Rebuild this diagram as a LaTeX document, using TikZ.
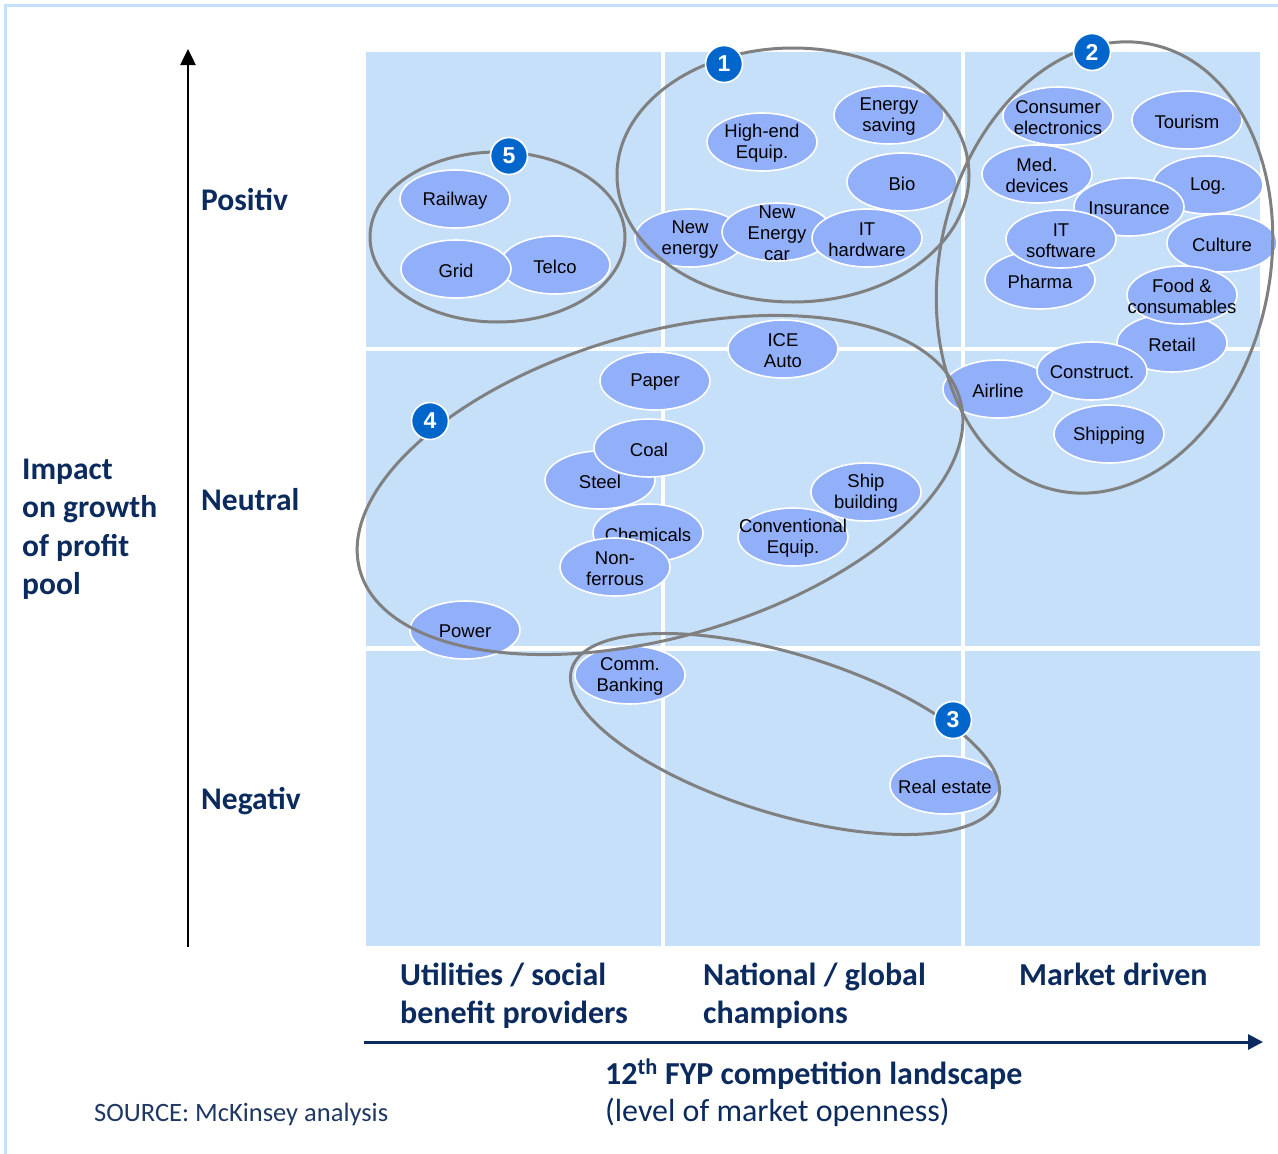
\documentclass[tikz,border=0pt]{standalone}
\usepackage{fontspec}
\setmainfont{Carlito}
\newfontfamily\bubfont{Liberation Sans}
\usetikzlibrary{shapes.geometric,arrows.meta}
\definecolor{cellblue}{HTML}{C6E0FA}
\definecolor{bubblue}{HTML}{92B0FA}
\definecolor{navy}{HTML}{0B2B5E}
\definecolor{srcnavy}{HTML}{1F3864}
\definecolor{ringgray}{HTML}{808080}
\definecolor{badgeblue}{HTML}{0066CC}
\newcommand{\bubnode}[3]{\node[bub, label={[bubtxt]center:{#3}}] (#1) at (#2) {};}
\begin{document}
\begin{tikzpicture}[x=1pt,y=-1pt,
  bub/.style={ellipse, fill=bubblue, draw=white, line width=1.6pt,
    minimum width=110pt, minimum height=58pt, inner sep=0pt},
  bubtxt/.style={inner sep=0pt, align=center, text=black, yshift=-1.5pt,
    font=\bubfont\fontsize{18.5}{21}\selectfont},
  ring/.style={draw=ringgray, line width=3pt},
  badge/.style={circle, fill=badgeblue, draw=white, line width=1.6pt,
    minimum size=37pt, inner sep=0pt, text=white,
    font=\bubfont\bfseries\fontsize{23}{23}\selectfont},
  lab/.style={anchor=base west, inner sep=0pt, text=navy,
    font=\bfseries\fontsize{31.5}{38}\selectfont},
  labc/.style={anchor=base west, inner sep=0pt, text=navy,
    font=\bfseries\fontsize{32}{38}\selectfont},
  reg/.style={anchor=base west, inner sep=0pt, text=navy,
    font=\fontsize{32}{38}\selectfont},
  yaxis/.style={draw=black, line width=2.5pt, -{Triangle[length=16pt,width=15pt]}},
  xaxis/.style={draw=navy, line width=3pt, -{Triangle[length=15pt,width=15pt]}}
]
\useasboundingbox (0,0) rectangle (1278,1154);
\fill[white] (0,0) rectangle (1278,1154);
\draw[cellblue, line width=3pt] (5,1170) -- (5,5) -- (1290,5);

% grid cells
\foreach \xa/\xb in {366/661,665/961,965/1260}
  \foreach \ya/\yb in {52/347,351/646,651/946}
    \fill[cellblue] (\xa,\ya) rectangle (\xb,\yb);

% axes
\coordinate (ybot) at (188,947);
\coordinate (ytop) at (188,49);
\draw[yaxis] (ybot) -- (ytop);
\coordinate (xleft) at (364,1042);
\coordinate (xright) at (1263,1042);
\draw[xaxis] (xleft) -- (xright);

% axis labels
\node[lab] (positiv) at (201,210) {Positiv};
\node[lab] (neutral) at (201,510) {Neutral};
\node[lab] (negativ) at (201,809) {Negativ};
\node[lab] (imp1) at (22,479) {Impact};
\node[lab] (imp2) at (22,517) {on growth};
\node[lab] (imp3) at (22,556) {of profit};
\node[lab] (imp4) at (22,594) {pool};
\node[labc] (c1a) at (400,985) {Utilities / social};
\node[labc] (c1b) at (400,1023) {benefit providers};
\node[labc] (c2a) at (703,985) {National / global};
\node[labc] (c2b) at (703,1023) {champions};
\node[labc] (c3a) at (1019,985) {Market driven};
\node[labc] (xtitle) at (605,1084) {12\textsuperscript{th} FYP competition landscape};
\node[reg] (xsub) at (605,1121) {(level of market openness)};
\node[anchor=base west, inner sep=0pt, text=srcnavy, font=\fontsize{26.5}{30}\selectfont] (source) at (94,1121) {SOURCE: McKinsey analysis};

% cluster 5 bubbles
\bubnode{telco}{555,265}{Telco}
\bubnode{railway}{455,199}{Railway}
\bubnode{grid}{456,269}{Grid}

% cluster 1 bubbles
\bubnode{highend}{762,142}{High-end\\Equip.}
\bubnode{energysaving}{889,115}{Energy\\saving}
\bubnode{bio}{902,182}{Bio}
\bubnode{newenergy}{690,238}{New\\energy}
\bubnode{nec}{777,232}{New\\Energy\\car}
\bubnode{ithw}{867,238}{IT\\hardware}

% cluster 2 bubbles
\bubnode{consumer}{1058,116}{Consumer\\electronics}
\bubnode{tourism}{1187,120}{Tourism}
\bubnode{med}{1037,174}{Med.\\devices}
\bubnode{log}{1208,185}{Log.}
\bubnode{insurance}{1129,207}{Insurance}
\bubnode{pharma}{1040,280}{Pharma}
\bubnode{itsw}{1061,239}{IT\\software}
\bubnode{culture}{1222,243}{Culture}
\bubnode{retail}{1172,343}{Retail}
\bubnode{food}{1182,295}{Food \&\\consumables}
\bubnode{airline}{998,389}{Airline}
\bubnode{construct}{1092,371}{Construct.}
\bubnode{shipping}{1109,434}{Shipping}

% cluster 4 bubbles
\bubnode{ice}{783,349}{ICE\\Auto}
\bubnode{paper}{655,381}{Paper}
\bubnode{steel}{600,480}{Steel}
\bubnode{coal}{649,448}{Coal}
\bubnode{chemicals}{648,533}{Chemicals}
\bubnode{nonferrous}{615,567}{Non-\\ferrous}
\bubnode{shipb}{866,492}{Ship\\building}
\bubnode{conv}{793,537}{Conventional\\Equip.}
\bubnode{power}{465,630}{Power}

% cluster 3 bubbles
\bubnode{comm}{630,675}{Comm.\\Banking}
\bubnode{realestate}{945,785}{Real estate}

% cluster rings
\draw[ring] (497.5,237) ellipse [x radius=127.5pt, y radius=85pt];
\draw[ring] (793,175) ellipse [x radius=176pt, y radius=127pt];
\draw[ring, rotate around={-12:(1104.5,267.5)}] (1104.5,267.5) ellipse [x radius=165pt, y radius=228pt];
\draw[ring, rotate around={16:(660,485)}] (660,485) ellipse [x radius=312pt, y radius=152pt];
\draw[ring, rotate around={-17:(785,734)}] (785,734) ellipse [x radius=223pt, y radius=80pt];

% badges
\node[badge] (b1) at (724,64) {1};
\node[badge] (b2) at (1092,52) {2};
\node[badge] (b3) at (953,720) {3};
\node[badge] (b4) at (430,421) {4};
\node[badge] (b5) at (509,156) {5};
\end{tikzpicture}
\end{document}
